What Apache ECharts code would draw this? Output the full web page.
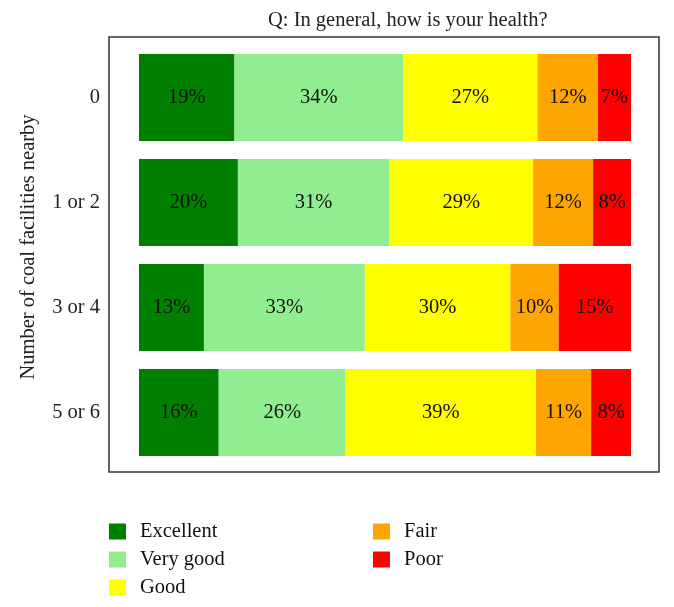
<!DOCTYPE html>
<html>
<head>
<meta charset="utf-8">
<script src="https://cdn.jsdelivr.net/npm/echarts@6/dist/echarts.min.js"></script>
<style>
html,body{margin:0;padding:0;background:#fff;}
#chart{width:674px;height:607px;}
</style>
</head>
<body>
<div id="chart"></div>
<script>
var categories = ['0', '1 or 2', '3 or 4', '5 or 6'];
var seriesNames = ['Excellent', 'Very good', 'Good', 'Fair', 'Poor'];
var excellent = [19.4, 20.1, 13.2, 16.2];
var veryGood  = [34.3, 30.8, 32.7, 25.8];
var good      = [27.3, 29.2, 29.6, 38.7];
var fair      = [12.3, 12.2, 9.8, 11.2];
var poor      = [6.7, 7.7, 14.7, 8.1];
var colors = ['#007F00', '#90EE90', '#FFFF00', '#FFA500', '#FF0000'];

var FONT = '"Liberation Serif", "DejaVu Serif", serif';
var FS = 20.5;
var chart = echarts.init(document.getElementById('chart'));
var values = [excellent, veryGood, good, fair, poor];

var series = seriesNames.map(function (name, i) {
  return {
    name: name,
    type: 'bar',
    stack: 'total',
    barWidth: 87,
    data: values[i],
    itemStyle: { color: colors[i] },
    label: {
      show: true,
      position: 'inside',
      formatter: function (p) { return Math.round(p.value) + '%'; },
      fontFamily: FONT,
      fontSize: FS,
      color: '#111'
    },
    emphasis: { disabled: true }
  };
});

function legendOpt(names, left) {
  return {
    data: names,
    orient: 'vertical',
    left: left,
    top: 521,
    height: 120,
    padding: 0,
    itemWidth: 17,
    itemHeight: 16,
    itemGap: 7,
    icon: 'rect',
    selectedMode: false,
    textStyle: { fontFamily: FONT, fontSize: FS, color: '#111', padding: [0, 0, 0, 9] }
  };
}

chart.setOption({
  animation: false,
  title: {
    text: 'Q: In general, how is your health?',
    left: 263,
    top: 5,
    textStyle: { fontFamily: FONT, fontSize: FS, fontWeight: 'normal', color: '#222' }
  },
  graphic: [{
    type: 'rect',
    shape: { x: 109, y: 37, width: 550, height: 435 },
    style: { fill: 'none', stroke: '#333', lineWidth: 1.5 },
    z: 0
  }],
  legend: [legendOpt(['Excellent', 'Very good', 'Good'], 109), legendOpt(['Fair', 'Poor'], 373)],
  grid: { left: 139, right: 43, top: 45, bottom: 142, containLabel: false },
  xAxis: {
    type: 'value',
    min: 0,
    max: 100,
    show: false
  },
  yAxis: {
    type: 'category',
    data: categories,
    inverse: true,
    axisLine: { show: false },
    axisTick: { show: false },
    axisLabel: { margin: 39, fontFamily: FONT, fontSize: FS, color: '#222' },
    name: 'Number of coal facilities nearby',
    nameLocation: 'middle',
    nameGap: 100,
    nameTextStyle: { fontFamily: FONT, fontSize: FS, color: '#222', padding: [0, 0, 0, 16] }
  },
  series: series
});
</script>
</body>
</html>
